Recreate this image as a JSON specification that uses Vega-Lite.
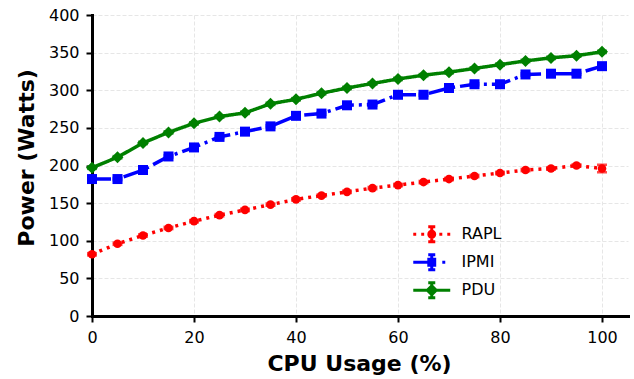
{
  "$schema": "https://vega.github.io/schema/vega-lite/v6.json",
  "width": 536,
  "height": 301,
  "autosize": {"type": "none"},
  "padding": {"left": 92, "top": 15, "right": 6, "bottom": 63},
  "background": "white",
  "config": {
    "view": {"stroke": null},
    "font": "DejaVu Sans",
    "axis": {
      "domainColor": "black", "domainWidth": 3, "domainCap": "square",
      "tickColor": "black", "tickWidth": 2, "tickSize": 6,
      "labelFont": "DejaVu Sans", "labelFontSize": 16, "labelColor": "black", "labelPadding": 7,
      "titleFont": "DejaVu Sans", "titleFontSize": 22, "titleFontWeight": "bold", "titleColor": "black",
      "gridColor": "#e6e6e6", "gridDash": [4, 2], "gridWidth": 1
    }
  },
  "data": {
    "values": [
      {"series": "RAPL", "cpu": 0, "power": 82, "err": 1.5},
      {"series": "RAPL", "cpu": 5, "power": 96, "err": 1.5},
      {"series": "RAPL", "cpu": 10, "power": 107, "err": 1.5},
      {"series": "RAPL", "cpu": 15, "power": 117, "err": 1.5},
      {"series": "RAPL", "cpu": 20, "power": 126, "err": 1.5},
      {"series": "RAPL", "cpu": 25, "power": 134, "err": 1.5},
      {"series": "RAPL", "cpu": 30, "power": 141, "err": 1.5},
      {"series": "RAPL", "cpu": 35, "power": 148, "err": 1.5},
      {"series": "RAPL", "cpu": 40, "power": 155, "err": 1.5},
      {"series": "RAPL", "cpu": 45, "power": 160, "err": 1.5},
      {"series": "RAPL", "cpu": 50, "power": 165, "err": 1.5},
      {"series": "RAPL", "cpu": 55, "power": 170, "err": 1.5},
      {"series": "RAPL", "cpu": 60, "power": 174, "err": 1.5},
      {"series": "RAPL", "cpu": 65, "power": 178, "err": 1.5},
      {"series": "RAPL", "cpu": 70, "power": 182, "err": 1.5},
      {"series": "RAPL", "cpu": 75, "power": 186, "err": 1.5},
      {"series": "RAPL", "cpu": 80, "power": 190, "err": 1.5},
      {"series": "RAPL", "cpu": 85, "power": 194, "err": 1.5},
      {"series": "RAPL", "cpu": 90, "power": 196, "err": 1.5},
      {"series": "RAPL", "cpu": 95, "power": 200, "err": 1.5},
      {"series": "RAPL", "cpu": 100, "power": 196, "err": 5},
      {"series": "IPMI", "cpu": 0, "power": 182, "err": 1.5},
      {"series": "IPMI", "cpu": 5, "power": 182, "err": 1.5},
      {"series": "IPMI", "cpu": 10, "power": 194, "err": 1.5},
      {"series": "IPMI", "cpu": 15, "power": 212, "err": 1.5},
      {"series": "IPMI", "cpu": 20, "power": 224, "err": 1.5},
      {"series": "IPMI", "cpu": 25, "power": 238, "err": 1.5},
      {"series": "IPMI", "cpu": 30, "power": 245, "err": 1.5},
      {"series": "IPMI", "cpu": 35, "power": 252, "err": 1.5},
      {"series": "IPMI", "cpu": 40, "power": 266, "err": 1.5},
      {"series": "IPMI", "cpu": 45, "power": 269, "err": 1.5},
      {"series": "IPMI", "cpu": 50, "power": 280, "err": 1.5},
      {"series": "IPMI", "cpu": 55, "power": 281, "err": 1.5},
      {"series": "IPMI", "cpu": 60, "power": 294, "err": 1.5},
      {"series": "IPMI", "cpu": 65, "power": 294, "err": 1.5},
      {"series": "IPMI", "cpu": 70, "power": 303, "err": 1.5},
      {"series": "IPMI", "cpu": 75, "power": 308, "err": 1.5},
      {"series": "IPMI", "cpu": 80, "power": 308, "err": 1.5},
      {"series": "IPMI", "cpu": 85, "power": 321, "err": 1.5},
      {"series": "IPMI", "cpu": 90, "power": 322, "err": 1.5},
      {"series": "IPMI", "cpu": 95, "power": 322, "err": 1.5},
      {"series": "IPMI", "cpu": 100, "power": 332, "err": 3},
      {"series": "PDU", "cpu": 0, "power": 197, "err": 1.5},
      {"series": "PDU", "cpu": 5, "power": 211, "err": 1.5},
      {"series": "PDU", "cpu": 10, "power": 230, "err": 1.5},
      {"series": "PDU", "cpu": 15, "power": 244, "err": 1.5},
      {"series": "PDU", "cpu": 20, "power": 256, "err": 1.5},
      {"series": "PDU", "cpu": 25, "power": 265, "err": 1.5},
      {"series": "PDU", "cpu": 30, "power": 270, "err": 1.5},
      {"series": "PDU", "cpu": 35, "power": 282, "err": 1.5},
      {"series": "PDU", "cpu": 40, "power": 288, "err": 1.5},
      {"series": "PDU", "cpu": 45, "power": 296, "err": 1.5},
      {"series": "PDU", "cpu": 50, "power": 303, "err": 1.5},
      {"series": "PDU", "cpu": 55, "power": 309, "err": 1.5},
      {"series": "PDU", "cpu": 60, "power": 315, "err": 1.5},
      {"series": "PDU", "cpu": 65, "power": 320, "err": 1.5},
      {"series": "PDU", "cpu": 70, "power": 324, "err": 1.5},
      {"series": "PDU", "cpu": 75, "power": 329, "err": 1.5},
      {"series": "PDU", "cpu": 80, "power": 334, "err": 1.5},
      {"series": "PDU", "cpu": 85, "power": 339, "err": 1.5},
      {"series": "PDU", "cpu": 90, "power": 343, "err": 1.5},
      {"series": "PDU", "cpu": 95, "power": 346, "err": 1.5},
      {"series": "PDU", "cpu": 100, "power": 351, "err": 1.5}
    ]
  },
  "encoding": {
    "x": {
      "field": "cpu", "type": "quantitative",
      "scale": {"domain": [0, 105.1], "nice": false, "zero": false},
      "axis": {
        "values": [0, 20, 40, 60, 80, 100], "title": "CPU Usage (%)", "labelFlush": false,
        "titleX": 267, "titleY": 54, "titleBaseline": "alphabetic", "titleAlign": "center", "titleAnchor": null
      }
    },
    "y": {
      "field": "power", "type": "quantitative",
      "scale": {"domain": [0, 400], "nice": false},
      "axis": {
        "values": [0, 50, 100, 150, 200, 250, 300, 350, 400], "title": "Power (Watts)",
        "titleAngle": -90, "titleX": -58.7, "titleY": 142.4, "titleBaseline": "alphabetic", "titleAlign": "center", "titleAnchor": null
      }
    },
    "color": {
      "field": "series", "type": "nominal",
      "scale": {"domain": ["RAPL", "IPMI", "PDU"], "range": ["#ff0000", "#0000ff", "#008000"]},
      "legend": {
        "title": null, "orient": "none", "legendX": 326.75, "legendY": 206.25,
        "padding": 0, "labelFont": "DejaVu Sans", "labelFontSize": 16, "labelColor": "black",
        "labelOffset": 16.75, "rowPadding": 0, "symbolSize": 506, "symbolStrokeWidth": 3,
        "encoding": {
          "symbols": {
            "shape": {"value": {"expr": "datum.value === 'RAPL' ? 'M-1.644,0L-1.381,0M-0.937,0L-0.674,0M0.674,0L0.937,0M1.381,0L1.644,0M0.263,0A0.263,0.263,0,1,1,-0.263,0A0.263,0.263,0,1,1,0.263,0ZM0,-0.674L0,0.674M-0.312,-0.674L0.312,-0.674M-0.312,0.674L0.312,0.674' : datum.value === 'IPMI' ? 'M-1.644,0L0.312,0M0.937,0L1.201,0M-0.263,-0.263L0.263,-0.263L0.263,0.263L-0.263,0.263ZM0,-0.674L0,0.674M-0.312,-0.674L0.312,-0.674M-0.312,0.674L0.312,0.674' : 'M-1.644,0L1.644,0M0,-0.395L0.395,0L0,0.395L-0.395,0ZM0,-0.674L0,0.674M-0.312,-0.674L0.312,-0.674M-0.312,0.674L0.312,0.674'"}},
            "size": {"value": 506},
            "fill": {"value": {"expr": "scale('color', datum.value)"}},
            "stroke": {"value": {"expr": "scale('color', datum.value)"}},
            "strokeWidth": {"value": 3},
            "strokeDash": {"value": []},
            "opacity": {"value": 1},
            "fillOpacity": {"value": 1}
          }
        }
      }
    }
  },
  "layer": [
    {
      "mark": {"type": "line", "strokeWidth": 3.5},
      "encoding": {
        "strokeDash": {
          "condition": [
            {"test": "datum.series === 'RAPL'", "value": [3, 5]},
            {"test": "datum.series === 'IPMI'", "value": [19, 5, 3, 5]}
          ],
          "value": [1, 0]
        }
      }
    },
    {
      "mark": {"type": "errorbar", "ticks": {"size": 10, "thickness": 2.5}, "thickness": 2.5},
      "encoding": {
        "y": {"field": "power", "type": "quantitative"},
        "yError": {"field": "err"}
      }
    },
    {
      "mark": {"type": "point", "filled": true, "opacity": 1},
      "encoding": {
        "shape": {
          "condition": [
            {"test": "datum.series === 'RAPL'", "value": "circle"},
            {"test": "datum.series === 'IPMI'", "value": "square"}
          ],
          "value": "diamond"
        },
        "size": {
          "condition": [
            {"test": "datum.series === 'RAPL'", "value": 75},
            {"test": "datum.series === 'IPMI'", "value": 100}
          ],
          "value": 144
        }
      }
    }
  ]
}
